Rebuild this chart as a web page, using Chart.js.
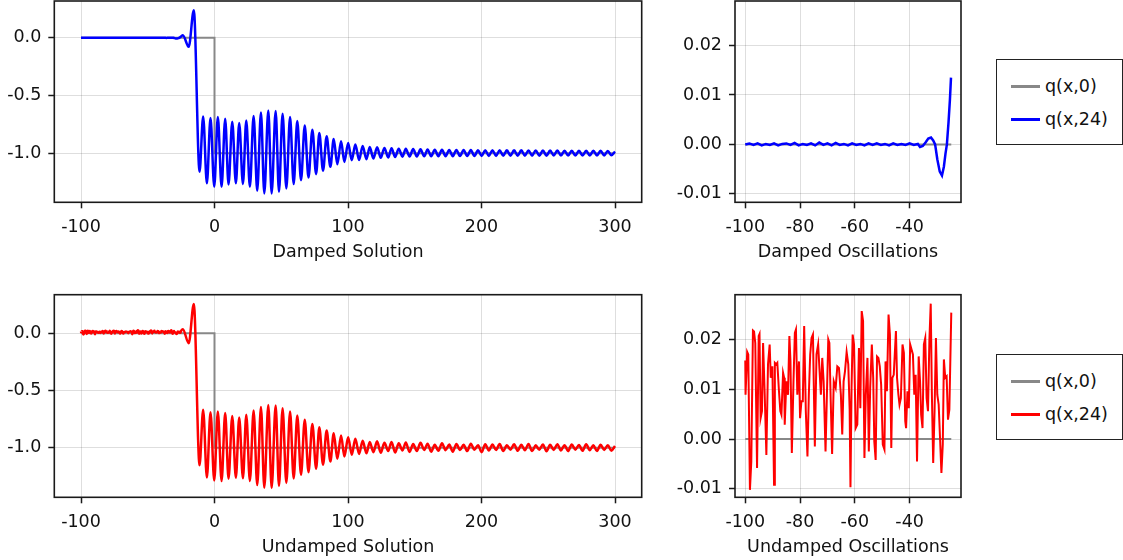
<!DOCTYPE html>
<html>
<head>
<meta charset="utf-8">
<script src="https://cdn.jsdelivr.net/npm/chart.js@4/dist/chart.umd.min.js"></script>
<style>
  body { margin: 0; background: #fff; width: 1123px; height: 560px; position: relative; overflow: hidden; font-family: "DejaVu Sans", sans-serif; }
  canvas { position: absolute; }
  .legend { position: absolute; left: 996px; width: 127px; height: 86px; border: 1px solid #222; box-sizing: border-box; background: #fff; }
  .legend .row { position: absolute; left: 0; right: 0; height: 20px; }
  .legend .swatch { position: absolute; left: 14px; width: 29px; height: 2.5px; top: 9px; }
  .legend .label { position: absolute; left: 48px; top: 0; font-size: 17.5px; line-height: 20px; color: #111; white-space: nowrap; }
</style>
</head>
<body>
<canvas id="dampedSolution" width="660" height="263" style="left:0;top:0"></canvas>
<canvas id="dampedOsc" width="320" height="263" style="left:660px;top:0"></canvas>
<canvas id="undampedSolution" width="660" height="278" style="left:0;top:280px"></canvas>
<canvas id="undampedOsc" width="320" height="278" style="left:660px;top:280px"></canvas>

<div class="legend" style="top:59px">
  <div class="row" style="top:16px"><div class="swatch" style="background:#888"></div><div class="label">q(x,0)</div></div>
  <div class="row" style="top:49px"><div class="swatch" style="background:#0000ff"></div><div class="label">q(x,24)</div></div>
</div>
<div class="legend" style="top:354px">
  <div class="row" style="top:16px"><div class="swatch" style="background:#888"></div><div class="label">q(x,0)</div></div>
  <div class="row" style="top:49px"><div class="swatch" style="background:#ff0000"></div><div class="label">q(x,24)</div></div>
</div>

<script>
// initial condition q(x,0): a step down at x = 0
const stepX = [-100, 0, 0, 300];
const stepY = [0, 0, -1, -1];
const stepFineX = [-100, -24.8];
const stepFineY = [0, 0];

// left tail (x <= -25), shown in the "Oscillations" panels
const dampedFineX = [
  -100, -98.5, -97, -95.5, -94, -92.5, -91, -89.5, -88, -86.5,
  -85, -83.5, -82, -80.5, -79, -77.5, -76, -74.5, -73, -71.5,
  -70, -68.5, -67, -65.5, -64, -62.5, -61, -59.5, -58, -56.5,
  -55, -53.5, -52, -50.5, -49, -47.5, -46, -44.5, -43, -41.5,
  -40, -38.5, -37, -36.2, -35.2, -34.2, -33.2, -32.2, -31.4, -30.7,
  -29.9, -29.0, -28.2, -27.5, -26.9, -26.4, -25.8, -25.3, -24.9,
];
const dampedFineY = [
  0.0000, 0.0002, -0.0001, 0.0002, -0.0002, 0.0001, -0.0001, 0.0002, -0.0002, 0.0001,
  0.0002, -0.0001, 0.0003, -0.0002, 0.0001, -0.0001, 0.0002, -0.0002, 0.0004, -0.0001,
  0.0002, -0.0002, 0.0003, -0.0001, 0.0001, -0.0002, 0.0002, -0.0001, 0.0001, -0.0002,
  0.0002, -0.0001, 0.0002, -0.0001, 0.0001, -0.0002, 0.0002, -0.0001, 0.0001, -0.0001,
  0.0002, -0.0001, 0.0001, -0.0005, -0.0003, 0.0004, 0.0012, 0.0014, 0.0008, 0.0000,
  -0.0030, -0.0055, -0.0063, -0.0045, -0.0018, 0.0000, 0.0045, 0.0090, 0.0135,
];

const undampedFineX = [
  -100.0, -99.9, -99.3, -98.9, -98.3, -97.8, -97.2, -96.8, -96.35, -95.7,
  -95.1, -94.8, -94.4, -93.9, -93.5, -92.9, -92.3, -91.7, -91.1, -90.7,
  -90.1, -89.5, -89.2, -88.7, -88.3, -87.7, -87.2, -86.8, -86.2, -85.8,
  -85.6, -85.0, -84.4, -83.9, -83.5, -83.0, -82.4, -81.9, -81.5, -81.0,
  -80.4, -80.0, -79.5, -79.0, -78.5, -77.9, -77.3, -76.8, -76.3, -75.8,
  -75.3, -74.6, -74.0, -73.4, -72.8, -72.4, -71.9, -71.4, -70.7, -70.2,
  -69.7, -69.3, -68.8, -68.3, -67.7, -67.0, -66.4, -65.8, -65.1, -64.6,
  -64.1, -63.6, -63.0, -62.4, -61.9, -61.6, -61.2, -60.8, -60.3, -59.7,
  -59.1, -58.5, -58.0, -57.5, -57.0, -56.5, -56.0, -55.4, -54.9, -54.4,
  -53.8, -53.3, -52.9, -52.4, -51.9, -51.4, -50.9, -50.4, -49.8, -49.2,
  -48.8, -48.3, -47.7, -47.2, -46.7, -46.3, -45.8, -45.0, -44.6, -44.1,
  -43.7, -43.2, -42.6, -42.1, -41.6, -41.3, -40.8, -40.3, -39.8, -39.3,
  -38.8, -38.3, -37.8, -37.3, -36.7, -36.2, -35.8, -35.3, -34.8, -34.3,
  -33.8, -33.3, -32.8, -32.3, -31.9, -31.4, -30.9, -30.4, -29.9, -29.4,
  -28.9, -28.4, -27.9, -27.5, -27.0, -26.5, -26.0, -25.5, -24.8,
];
const undampedFineY = [
  0.0158, 0.0089, 0.0175, 0.0170, -0.0102, -0.0045, 0.0218, 0.0216, 0.0193, -0.0058,
  0.0207, 0.0211, 0.0042, 0.0056, 0.0193, 0.0089, -0.0032, 0.0150, 0.0190, 0.0123,
  0.0146, -0.0092, 0.0153, 0.0150, 0.0153, 0.0096, 0.0056, 0.0049, 0.0133, 0.0123,
  0.0029, 0.0116, 0.0089, 0.0207, 0.0156, -0.0028, 0.0116, 0.0213, 0.0220, 0.0089,
  0.0156, 0.0042, 0.0076, 0.0076, 0.0227, 0.0056, -0.0035, 0.0089, 0.0170, 0.0203,
  0.0210, -0.0015, 0.0170, 0.0190, 0.0129, 0.0089, 0.0163, 0.0116, -0.0025, 0.0089,
  0.0200, 0.0193, 0.0075, -0.0030, 0.0116, 0.0103, 0.0146, 0.0143, 0.0089, 0.0009,
  0.0116, 0.0136, 0.0175, 0.0150, 0.0060, -0.0097, 0.0103, 0.0210, 0.0190, 0.0022,
  0.0029, 0.0183, 0.0062, 0.0257, 0.0237, -0.0038, 0.0089, 0.0163, -0.0025, 0.0103,
  0.0190, 0.0123, -0.0005, -0.0042, 0.0166, 0.0163, 0.0146, 0.0109, -0.0011, -0.0021,
  0.0156, 0.0096, 0.0250, 0.0210, -0.0018, 0.0123, 0.0129, 0.0217, 0.0123, 0.0089,
  0.0069, 0.0082, 0.0190, 0.0173, 0.0036, 0.0022, 0.0096, 0.0062, 0.0190, 0.0180,
  0.0170, 0.0089, 0.0129, -0.0045, 0.0166, 0.0116, 0.0049, 0.0022, 0.0190, 0.0203,
  0.0082, 0.0056, 0.0197, 0.0272, 0.0096, -0.0048, 0.0056, 0.0203, 0.0089, 0.0069,
  0.0002, -0.0068, -0.0011, 0.0160, 0.0123, 0.0126, 0.0039, 0.0059, 0.0254,
];

// main wave (x > -25): peaks and troughs
const mainX = [
  -23.7, -19.3, -15.5, -11.2, -8.5, -5.7, -3.0, -0.2, 2.5, 5.3,
  8.0, 10.5, 13.3, 16.0, 18.5, 21.3, 23.8, 26.5, 29.3, 32.0,
  34.8, 37.3, 40.3, 42.8, 45.8, 48.3, 51.0, 53.8, 56.6, 59.3,
  62.0, 64.8, 67.6, 70.4, 73.3, 76.1, 78.5, 81.3, 84.0, 86.8,
  89.3, 92.0, 94.8, 97.3, 100.1, 102.8, 105.5, 108.3, 111.0, 113.8,
  116.3, 119.0, 121.8, 124.5, 127.3, 130.1, 132.6, 135.3, 138.0, 140.8,
  143.3, 146.1, 148.8, 151.6, 154.3, 157.1, 159.6, 162.3, 165.0, 167.7,
  170.4, 173.1, 175.8, 178.5, 181.2, 183.9, 186.6, 189.3, 192.0, 194.7,
  197.4, 200.1, 202.8, 205.5, 208.2, 210.9, 213.6, 216.3, 219.0, 221.7,
  224.4, 227.1, 229.8, 232.5, 235.2, 237.9, 240.6, 243.3, 246.0, 248.7,
  251.4, 254.1, 256.8, 259.5, 262.2, 264.9, 267.6, 270.3, 273.0, 275.7,
  278.4, 281.1, 283.8, 286.5, 289.2, 291.9, 294.6, 297.3, 300.0,
];
const dampedMainY = [
  0.023, -0.078, 0.239, -1.160, -0.681, -1.261, -0.695, -1.290, -0.687, -1.290,
  -0.701, -1.270, -0.727, -1.261, -0.739, -1.266, -0.716, -1.290, -0.678, -1.325,
  -0.647, -1.348, -0.629, -1.348, -0.635, -1.333, -0.658, -1.305, -0.687, -1.267,
  -0.721, -1.233, -0.759, -1.211, -0.796, -1.181, -0.825, -1.152, -0.853, -1.118,
  -0.877, -1.095, -0.897, -1.075, -0.911, -1.060, -0.925, -1.058, -0.937, -1.052,
  -0.946, -1.046, -0.948, -1.040, -0.954, -1.037, -0.956, -1.032, -0.960, -1.030,
  -0.962, -1.029, -0.964, -1.028, -0.966, -1.027, -0.967, -1.026, -0.969, -1.026,
  -0.970, -1.025, -0.971, -1.025, -0.971, -1.024, -0.972, -1.024, -0.972, -1.024,
  -0.973, -1.023, -0.973, -1.023, -0.974, -1.023, -0.974, -1.022, -0.975, -1.022,
  -0.975, -1.022, -0.975, -1.021, -0.976, -1.021, -0.976, -1.021, -0.977, -1.021,
  -0.977, -1.020, -0.977, -1.020, -0.978, -1.020, -0.978, -1.020, -0.978, -1.019,
  -0.979, -1.019, -0.979, -1.019, -0.979, -1.019, -0.980, -1.018, -0.985,
];
const undampedMainY = [
  0.035, -0.087, 0.256, -1.154, -0.668, -1.262, -0.690, -1.288, -0.684, -1.292,
  -0.698, -1.272, -0.724, -1.263, -0.736, -1.268, -0.713, -1.292, -0.676, -1.327,
  -0.645, -1.350, -0.628, -1.352, -0.632, -1.335, -0.655, -1.308, -0.684, -1.270,
  -0.718, -1.236, -0.756, -1.214, -0.793, -1.184, -0.822, -1.150, -0.850, -1.121,
  -0.874, -1.098, -0.894, -1.078, -0.908, -1.062, -0.922, -1.055, -0.940, -1.050,
  -0.950, -1.040, -0.944, -1.045, -0.958, -1.030, -0.950, -1.042, -0.962, -1.025,
  -0.955, -1.038, -0.968, -1.030, -0.958, -1.020, -0.965, -1.035, -0.975, -1.028,
  -0.962, -1.022, -0.972, -1.035, -0.968, -1.020, -0.975, -1.030, -0.965, -1.018,
  -0.978, -1.040, -0.970, -1.025, -0.972, -1.020, -0.968, -1.030, -0.978, -1.018,
  -0.970, -1.028, -0.975, -1.022, -0.968, -1.030, -0.980, -1.018, -0.972, -1.032,
  -0.975, -1.020, -0.970, -1.025, -0.978, -1.030, -0.972, -1.018, -0.976, -1.028,
  -0.970, -1.022, -0.980, -1.030, -0.974, -1.020, -0.978, -1.026, -0.985,
];

const solutionTicksX = [-100, 0, 100, 200, 300];
const solutionTicksY = [-1.0, -0.5, 0.0];
const oscTicksX = [-100, -80, -60, -40];
const oscTicksY = [-0.01, 0.0, 0.01, 0.02];

const FONT = { family: "'DejaVu Sans', sans-serif", size: 17.5 };
const TEXT = "#111";
const GRAY = "#888";

const framePlugin = {
  id: "frame",
  afterDatasetsDraw(chart) {
    const { ctx, chartArea: a } = chart;
    ctx.save();
    ctx.strokeStyle = "#1a1a1a";
    ctx.lineWidth = 1.6;
    ctx.strokeRect(a.left, a.top, a.right - a.left, a.bottom - a.top);
    ctx.restore();
  },
};

const points = (xs, ys) => xs.map((x, i) => ({ x, y: ys[i] }));

function axis(range, ticks, fmt, size, pad, extra) {
  return {
    type: "linear",
    min: range[0],
    max: range[1],
    afterBuildTicks: (s) => { s.ticks = ticks.map((v) => ({ value: v })); },
    afterFit: (s) => {
      size(s);
      s.paddingTop = 0;
      s.paddingBottom = 0;
      s.paddingLeft = 0;
      s.paddingRight = 0;
    },
    border: { display: false },
    grid: { color: "rgba(0,0,0,0.13)", lineWidth: 1, tickLength: 6, tickColor: "#1a1a1a", tickWidth: 1.5 },
    ticks: { font: FONT, color: TEXT, padding: pad, autoSkip: false, maxRotation: 0, callback: fmt },
    ...extra,
  };
}

function panel(id, opts) {
  new Chart(document.getElementById(id), {
    type: "line",
    data: { datasets: opts.datasets },
    options: {
      responsive: false,
      animation: false,
      layout: { padding: opts.padding },
      elements: { point: { radius: 0 } },
      plugins: { legend: { display: false }, tooltip: { enabled: false } },
      scales: {
        x: axis(opts.xRange, opts.xTicks, (v) => String(v), (s) => { s.height = opts.xHeight; }, 9, {
          title: { display: true, text: opts.title, font: FONT, color: TEXT, padding: { top: 0, bottom: 0 } },
        }),
        y: axis(opts.yRange, opts.yTicks, opts.yFmt, (s) => { s.width = opts.yWidth; }, 7, {}),
      },
    },
    plugins: [framePlugin],
  });
}

function line(xs, ys, color, width, smooth) {
  return {
    data: points(xs, ys),
    borderColor: color,
    borderWidth: width,
    cubicInterpolationMode: smooth ? "monotone" : "default",
    tension: 0,
  };
}

const dampedX = dampedFineX.concat(mainX);
const dampedY = dampedFineY.concat(dampedMainY);
const undampedX = undampedFineX.concat(mainX);
const undampedY = undampedFineY.concat(undampedMainY);

panel("dampedSolution", {
  title: "Damped Solution",
  datasets: [line(dampedX, dampedY, "#0000ff", 2.5, true), line(stepX, stepY, GRAY, 2, false)],
  xRange: [-120, 320], yRange: [-1.425, 0.319],
  xTicks: solutionTicksX, yTicks: solutionTicksY, yFmt: (v) => v.toFixed(1),
  padding: { top: 1, right: 18.3, left: 0, bottom: 0 }, xHeight: 60.7, yWidth: 54.3,
});
panel("dampedOsc", {
  title: "Damped Oscillations",
  datasets: [line(dampedFineX, dampedFineY, "#0000ff", 2.5, false), line(stepFineX, stepFineY, GRAY, 2, false)],
  xRange: [-103.75, -21.25], yRange: [-0.0117, 0.029],
  xTicks: oscTicksX, yTicks: oscTicksY, yFmt: (v) => v.toFixed(2),
  padding: { top: 1, right: 19, left: 0, bottom: 0 }, xHeight: 60.7, yWidth: 75,
});
panel("undampedSolution", {
  title: "Undamped Solution",
  datasets: [line(undampedX, undampedY, "#ff0000", 2.5, true), line(stepX, stepY, GRAY, 2, false)],
  xRange: [-120, 320], yRange: [-1.434, 0.337],
  xTicks: solutionTicksX, yTicks: solutionTicksY, yFmt: (v) => v.toFixed(1),
  padding: { top: 14.7, right: 18.3, left: 0, bottom: 0 }, xHeight: 60.7, yWidth: 54.3,
});
panel("undampedOsc", {
  title: "Undamped Oscillations",
  datasets: [line(undampedFineX, undampedFineY, "#ff0000", 2, false), line(stepFineX, stepFineY, GRAY, 2, false)],
  xRange: [-103.75, -21.25], yRange: [-0.0117, 0.029],
  xTicks: oscTicksX, yTicks: oscTicksY, yFmt: (v) => v.toFixed(2),
  padding: { top: 14.7, right: 19, left: 0, bottom: 0 }, xHeight: 60.7, yWidth: 75,
});
</script>
</body>
</html>
